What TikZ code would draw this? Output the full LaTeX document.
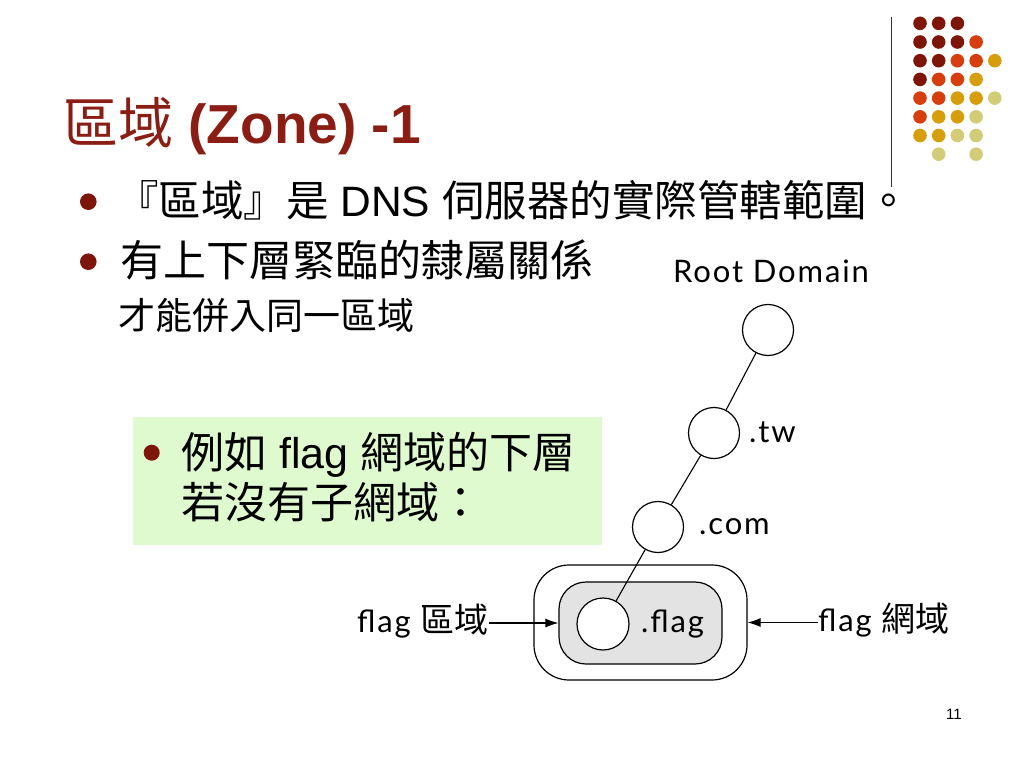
\documentclass[tikz,border=0pt]{standalone}
\usepackage{fontspec}
\setmainfont{Liberation Sans}
\newfontfamily\cjk{Noto Sans CJK TC}
\newfontfamily\dg{Lato}[LetterSpace=6]
\usetikzlibrary{arrows.meta}
\definecolor{titlered}{RGB}{139,30,20}
\definecolor{dD}{RGB}{125,22,8}
\definecolor{dO}{RGB}{214,62,14}
\definecolor{dG}{RGB}{214,158,10}
\definecolor{dL}{RGB}{210,204,120}
\definecolor{boxgreen}{RGB}{224,250,208}
\definecolor{zonegray}{RGB}{227,227,227}
\begin{document}
\begin{tikzpicture}[x=1pt,y=-1pt,
  txt/.style={inner sep=0pt, anchor=base west},
  bul/.style={fill=dD},
  dom/.style={circle, draw, fill=white, line width=1.2pt, minimum size=51pt, inner sep=0pt},
  tree/.style={line width=1.1pt},
  lab/.style={inner sep=0pt, anchor=base west, font=\dg\fontsize{31}{35}\selectfont},
  pointer/.style={line width=1.1pt, -{Latex[length=13pt,width=9pt]}}]
\useasboundingbox (0,0) rectangle (1024,768);
% decorative dots
\foreach \c/\r/\col in {1/1/dD,2/1/dD,3/1/dD,
  1/2/dD,2/2/dD,3/2/dD,4/2/dO,
  1/3/dD,2/3/dD,3/3/dO,4/3/dO,5/3/dG,
  1/4/dD,2/4/dO,3/4/dO,4/4/dG,
  1/5/dO,2/5/dO,3/5/dG,4/5/dG,5/5/dL,
  1/6/dO,2/6/dG,3/6/dG,4/6/dL,
  1/7/dG,2/7/dG,3/7/dL,4/7/dL,
  2/8/dL,4/8/dL}
  \fill[\col] ({920+18.7*(\c-1)},{23.3+18.7*(\r-1)}) circle (6.8);
\draw[line width=1.3pt, black!80] (891.7,17) -- (891.7,186.5);
% title
\node[txt, text=titlered, font=\fontsize{55}{60}\selectfont] (title) at (63,143)
  {{\cjk 區域} \textbf{(Zone) -1}};
% bullets
\fill[bul] (88.3,201.7) circle (8.3);
\fill[bul] (88.3,261.7) circle (8.3);
\node[txt, font=\fontsize{42.5}{50}\selectfont] (l1) at (116,216)
  {{\cjk 『區域』是} DNS {\cjk 伺服器的實際管轄範圍。}};
\node[txt, font=\fontsize{43}{50}\selectfont] (l2) at (120,276)
  {{\cjk 有上下層緊臨的隸屬關係}};
\node[txt, font=\fontsize{37}{42}\selectfont] (l3) at (118,329)
  {{\cjk 才能併入同一區域}};
% green box
\fill[boxgreen] (133,416.7) rectangle (601.7,545);
\fill[bul] (151.7,452.7) circle (8);
\node[txt, font=\fontsize{43}{48}\selectfont] (g1) at (181,468)
  {{\cjk 例如} flag {\cjk 網域的下層}};
\node[txt, font=\fontsize{43}{48}\selectfont] (g2) at (181,518)
  {{\cjk 若沒有子網域：}};
% diagram
\node[draw, line width=1.2pt, rounded corners=35pt, minimum width=213pt, minimum height=115pt, inner sep=0pt] (domain) at (640.5,622.5) {};
\node[draw, line width=1.2pt, fill=zonegray, rounded corners=27pt, minimum width=163pt, minimum height=82pt, inner sep=0pt] (zone) at (640.5,623) {};
\node[dom] (root) at (768,330) {};
\node[dom] (tw) at (714,433) {};
\node[dom] (com) at (658,527) {};
\node[dom, minimum size=52pt] (flag) at (603,624) {};
\draw[tree] (root) -- (tw);
\draw[tree] (tw) -- (com);
\draw[tree] (com) -- (flag);
\node[lab, anchor=base] (rootlab) at (771,282) {Root Domain};
\node[lab] (twlab) at (749,442) {.tw};
\node[lab] (comlab) at (699,534) {.com};
\node[lab] (flaglab) at (641,632) {.flag};
\node[lab] (zonelab) at (357,632) {flag {\cjk\fontsize{34}{38}\selectfont 區域}};
\node[lab] (domlab) at (818,631) {flag {\cjk\fontsize{34}{38}\selectfont 網域}};
\draw[pointer] (zonelab.east |- zone.west) -- (zone.west);
\draw[pointer] (domlab.west |- domain.east) -- (domain.east);
% page number
\node[inner sep=0pt, anchor=base east, font=\fontsize{15}{17}\selectfont] (pg) at (962,719) {11};
\end{tikzpicture}
\end{document}
